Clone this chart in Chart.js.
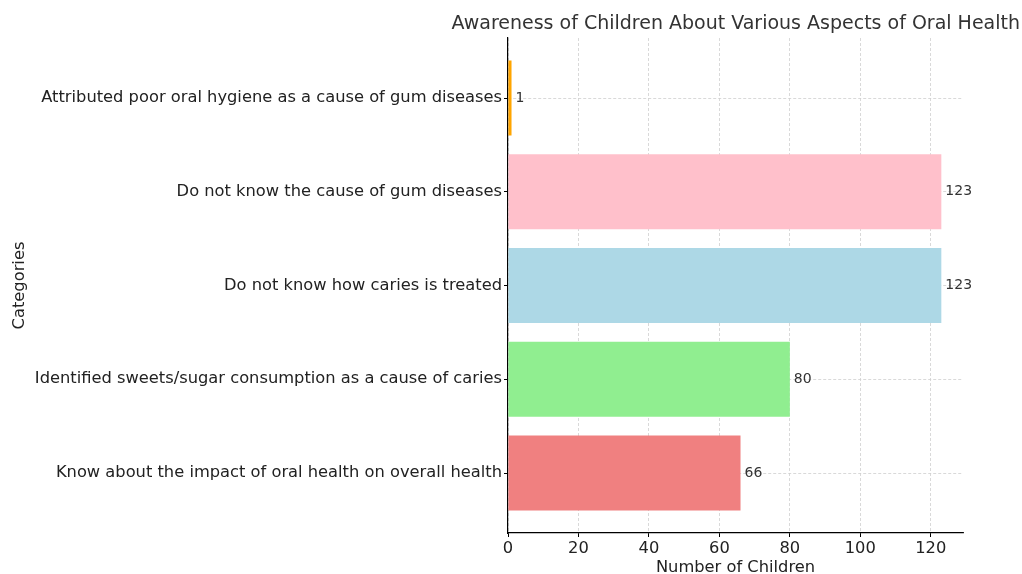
<!DOCTYPE html>
<html>
<head>
<meta charset="utf-8">
<script src="https://cdn.jsdelivr.net/npm/chart.js@4/dist/chart.umd.min.js"></script>
<style>
  html, body { margin: 0; padding: 0; background: #fff; }
  #wrap { width: 1022px; height: 574px; }
</style>
</head>
<body>
<div id="wrap"><canvas id="c" width="1022" height="574"></canvas></div>
<script>
// Survey categories, bottom to top
const categories = [
  'Know about the impact of oral health on overall health',
  'Identified sweets/sugar consumption as a cause of caries',
  'Do not know how caries is treated',
  'Do not know the cause of gum diseases',
  'Attributed poor oral hygiene as a cause of gum diseases'
];
// Number of children per category
const counts = [66, 80, 123, 123, 1];
const barColors = ['#F08080', '#90EE90', '#ADD8E6', '#FFC0CB', '#FFA500'];
const xTicks = [0, 20, 40, 60, 80, 100, 120];

const FONT = "'DejaVu Sans', sans-serif";
const TEXT = '#222';

// Writes each bar's value just past its end
const valueLabels = {
  id: 'valueLabels',
  afterDatasetsDraw(chart) {
    const ctx = chart.ctx;
    const meta = chart.getDatasetMeta(0);
    ctx.save();
    ctx.font = '14px ' + FONT;
    ctx.fillStyle = '#333';
    ctx.textAlign = 'left';
    ctx.textBaseline = 'middle';
    meta.data.forEach((bar, i) => {
      ctx.fillText(String(counts[i]), bar.x + 4, bar.y);
    });
    ctx.restore();
  }
};

const maxX = Math.max(...counts) * 1.05;

new Chart(document.getElementById('c'), {
  type: 'bar',
  data: {
    datasets: [{
      data: counts.map((v, i) => ({ x: v, y: i })),
      backgroundColor: barColors,
      borderWidth: 0,
      categoryPercentage: 1,
      barPercentage: 0.8,
      xAxisID: 'x',
      yAxisID: 'y'
    }]
  },
  options: {
    indexAxis: 'y',
    responsive: false,
    animation: false,
    layout: { padding: { left: 0, right: 2, top: 0, bottom: 0 } },
    plugins: {
      legend: { display: false },
      tooltip: { enabled: false },
      title: {
        display: true,
        text: 'Awareness of Children About Various Aspects of Oral Health',
        align: 'end',
        color: '#333',
        font: { family: FONT, size: 19, weight: 'normal' },
        padding: { top: 12.6, bottom: 2.6 }
      }
    },
    scales: {
      x: {
        type: 'linear',
        min: 0,
        max: maxX,
        offset: false,
        afterBuildTicks(scale) { scale.ticks = xTicks.map(v => ({ value: v })); },
        afterFit(scale) { scale.height = 41; },
        ticks: {
          color: TEXT,
          padding: 2,
          font: { family: FONT, size: 16.3 }
        },
        grid: {
          offset: false,
          color: '#cfcfcf',
          lineWidth: 0.8,
          tickColor: '#000',
          tickLength: 4,
          tickWidth: 1
        },
        border: { display: true, color: '#000', width: 1.2, dash: [3, 2] },
        title: {
          display: true,
          text: 'Number of Children',
          color: TEXT,
          font: { family: FONT, size: 16.3, lineHeight: 0.8 },
          padding: 0
        }
      },
      y: {
        type: 'linear',
        min: -0.64,
        max: 4.64,
        offset: false,
        afterBuildTicks(scale) { scale.ticks = categories.map((c, i) => ({ value: i })); },
        afterFit(scale) { scale.width = 508; },
        ticks: {
          color: TEXT,
          padding: 2,
          font: { family: FONT, size: 16.3 },
          callback: (v) => categories[v]
        },
        grid: {
          offset: false,
          color: '#cfcfcf',
          lineWidth: 0.8,
          tickColor: '#000',
          tickLength: 4,
          tickWidth: 1
        },
        border: { display: true, color: '#000', width: 1.2, dash: [3, 2] },
        title: {
          display: true,
          text: 'Categories',
          color: TEXT,
          font: { family: FONT, size: 16.3 },
          padding: { top: 10, bottom: 0 }
        }
      },
      // empty strip that keeps the plot clear of the right edge
      pad: {
        type: 'linear',
        position: 'right',
        axis: 'y',
        ticks: { display: false },
        grid: { display: false, drawTicks: false },
        border: { display: false },
        afterFit(scale) { scale.width = 57; }
      }
    }
  },
  plugins: [valueLabels]
});
</script>
</body>
</html>
